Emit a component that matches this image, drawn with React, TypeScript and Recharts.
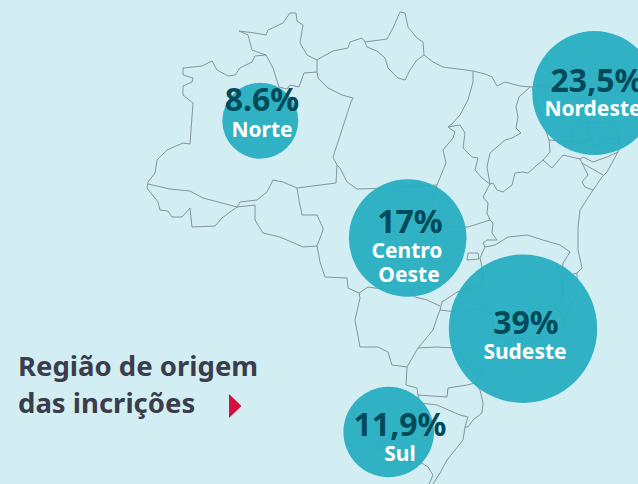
import React from 'react';
import { ScatterChart, Scatter, XAxis, YAxis, ZAxis } from 'recharts';

const WIDTH = 638;
const HEIGHT = 484;

const INK = '#004a59';
const BUBBLE = '#29afc2';
const BORDER = '#84949b';
const FONT = '"Noto Sans", Lato, sans-serif';

// regions and their share, as printed on the picture
const regions = ['Norte', 'Nordeste', 'Centro Oeste', 'Sudeste', 'Sul'];
const shares = ['8.6%', '23,5%', '17%', '39%', '11,9%'];

// bubble centres on the map plane and bubble area
const bubbleX = [260.3, 594.3, 407.7, 523, 388.7];
const bubbleY = [120.7, 93, 238, 328.7, 432];
const bubbleArea = [4536, 12076, 10862, 17296, 6447];

const shareX = [262, 597, 410, 526, 400];
const shareY = [111, 92, 233, 334, 436];

const nameLines = ['Norte', 'Nordeste', 'Centro', 'Oeste', 'Sudeste', 'Sul'];
const nameX = [262, 593, 407, 409, 525, 400];
const nameY = [137, 116, 258, 282, 359, 461];

const titleLines = ['Região de origem', 'das incrições'];
const titleX = [18, 18];
const titleY = [376, 413];

const arrow = [
  { x: 229, y: 394 },
  { x: 241.5, y: 406 },
  { x: 229, y: 418 },
];

type Pt = [number, number];

// state borders
const amazonasNorth: Pt[] = [[183, 68], [202, 66], [212, 61], [217, 70], [228, 76], [235, 75], [240, 68], [252, 62], [255, 56], [266, 55], [273, 68], [279, 87], [287, 89], [290, 85], [299, 87], [304, 73], [317, 72]];
const amazonasWest: Pt[] = [[183, 68], [183, 75], [193, 78], [192, 82], [183, 86], [183, 95], [193, 103], [190, 144], [183, 143], [167, 150], [157, 160], [155, 173], [148, 182], [147, 188], [158, 202], [160, 210], [168, 211], [172, 217], [182, 217], [190, 208], [192, 227], [215, 226], [222, 218], [237, 207], [255, 205]];
const acreLine: Pt[] = [[148, 184], [170, 189], [190, 191], [203, 198], [237, 207]];
const amazonasSouth: Pt[] = [[237, 207], [240, 202], [257, 200], [267, 192], [273, 180], [283, 182], [297, 188], [336, 183], [337, 165], [333, 157], [351, 102], [353, 98], [342, 95], [328, 88], [318, 78], [317, 72]];
const roraimaWest: Pt[] = [[239, 31], [248, 35], [252, 50], [260, 53], [266, 55]];
const roraimaNorth: Pt[] = [[239, 31], [255, 33], [266, 35], [268, 30], [283, 23], [290, 13], [296, 13], [297, 21], [303, 25], [300, 43], [307, 55], [317, 60], [317, 72]];
const paraNorth: Pt[] = [[317, 60], [322, 57], [333, 51], [348, 48], [350, 42], [362, 38], [365, 42], [380, 40]];
const amapa: Pt[] = [[365, 42], [367, 47], [377, 51], [385, 58], [388, 68], [398, 78], [405, 80], [410, 70], [417, 60], [424, 55], [423, 42], [417, 38], [408, 27], [405, 13], [400, 12], [393, 28], [387, 39], [380, 40]];
const eastCoast: Pt[] = [[424, 55], [433, 62], [443, 67], [473, 71], [485, 74], [492, 77], [497, 86], [505, 82], [520, 86], [530, 87], [547, 85], [563, 92], [583, 103], [613, 123], [619, 137], [619, 150], [607, 172], [602, 177], [593, 190], [580, 210], [578, 227], [578, 250], [582, 268], [577, 273], [577, 293], [565, 317], [563, 327], [543, 337], [527, 343], [497, 358], [482, 373], [475, 383], [480, 390], [483, 403], [482, 413], [473, 420], [468, 427], [465, 427], [463, 440], [447, 460], [440, 473], [433, 484]];
const maranhaoWest: Pt[] = [[473, 71], [473, 82], [468, 100], [460, 115], [452, 124], [448, 127], [460, 125], [465, 133], [463, 148], [472, 157], [478, 158], [475, 170], [482, 178], [490, 184]];
const tocantinsWest: Pt[] = [[448, 127], [455, 132], [453, 138], [443, 150], [446, 163], [437, 185], [433, 200], [433, 213]];
const matoGrossoNorth: Pt[] = [[337, 165], [340, 168], [347, 182], [357, 189], [390, 188], [437, 185]];
const maranhaoEast: Pt[] = [[530, 87], [519, 97], [516, 107], [518, 117], [516, 128], [521, 133], [512, 138], [505, 140], [490, 153], [487, 167], [490, 184]];
const bahiaNorth: Pt[] = [[490, 184], [493, 183], [497, 190], [503, 192], [512, 185], [515, 173], [523, 172], [528, 173], [543, 160], [550, 152], [549, 140], [540, 113], [532, 87]];
const pernambucoSouth: Pt[] = [[543, 160], [552, 168], [563, 155], [580, 159], [582, 163], [603, 175]];
const paraibaSouth: Pt[] = [[580, 159], [583, 157], [593, 162], [607, 157], [618, 152]];
const paraibaNorth: Pt[] = [[549, 140], [572, 142], [580, 143], [592, 138], [593, 148], [607, 140], [619, 137]];
const ceara: Pt[] = [[572, 142], [572, 128], [587, 122], [597, 123], [613, 123]];
const rioGrandeNorte: Pt[] = [[592, 138], [587, 130], [587, 122]];
const sergipe: Pt[] = [[582, 163], [583, 165], [588, 175], [582, 182], [585, 187], [593, 190]];
const tocantinsEast: Pt[] = [[490, 184], [483, 197], [488, 203], [487, 213], [490, 220]];
const goiasNorth: Pt[] = [[490, 220], [468, 227], [460, 227], [447, 227], [435, 223]];
const bahiaSouth: Pt[] = [[490, 220], [493, 223], [492, 233], [497, 240], [487, 240], [483, 243], [485, 247], [495, 245], [508, 237], [527, 235], [543, 240], [560, 245], [570, 252], [563, 263]];
const espiritoNorth: Pt[] = [[563, 263], [562, 277], [577, 273]];
const espiritoWest: Pt[] = [[562, 277], [563, 290], [562, 300], [553, 307], [563, 313], [565, 327]];
const minasWest: Pt[] = [[485, 247], [480, 258], [482, 267], [483, 283], [473, 288], [457, 292], [442, 302], [440, 310], [438, 315], [433, 330], [418, 348], [407, 367]];
const minasSouth: Pt[] = [[440, 310], [457, 312], [485, 308], [493, 315], [493, 333], [507, 340], [540, 337], [565, 327]];
const federalDistrict: Pt[] = [[468, 253], [478, 253], [479, 259], [467, 260], [468, 253]];
const matoGrossoSul: Pt[] = [[407, 367], [392, 365], [388, 352], [378, 347], [360, 347], [355, 320], [360, 298], [359, 293]];
const matoGrossoSouth: Pt[] = [[359, 293], [348, 288], [347, 278], [325, 277], [320, 262], [317, 246], [323, 230], [323, 228], [317, 215], [302, 215], [299, 200], [297, 188]];
const rondonia: Pt[] = [[255, 205], [255, 220], [263, 233], [280, 237], [303, 247], [317, 246]];
const goiasSouth: Pt[] = [[359, 293], [368, 287], [410, 293], [415, 297], [427, 300], [440, 306]];
const goiasWest: Pt[] = [[433, 213], [435, 245], [425, 270], [410, 293]];
const saoPauloSouth: Pt[] = [[418, 348], [437, 347], [453, 348], [460, 352], [467, 367], [482, 373]];
const parana: Pt[] = [[407, 367], [406, 385], [417, 388], [418, 395], [447, 397], [448, 388], [467, 385], [475, 383]];
const santaCatarina: Pt[] = [[418, 395], [420, 403], [437, 405], [460, 415], [468, 417], [465, 427]];
const rioGrandeSul: Pt[] = [[420, 403], [403, 427], [377, 447], [400, 460], [420, 462], [428, 467], [433, 475], [429, 484]];

const borders = [
  amazonasNorth, amazonasWest, acreLine, amazonasSouth, roraimaWest, roraimaNorth, paraNorth, amapa,
  eastCoast, maranhaoWest, tocantinsWest, matoGrossoNorth, maranhaoEast, bahiaNorth, pernambucoSouth,
  paraibaSouth, paraibaNorth, ceara, rioGrandeNorte, sergipe, tocantinsEast, goiasNorth, bahiaSouth,
  espiritoNorth, espiritoWest, minasWest, minasSouth, federalDistrict, matoGrossoSul, matoGrossoSouth,
  rondonia, goiasSouth, goiasWest, saoPauloSouth, parana, santaCatarina, rioGrandeSul,
];

const bubbleData = regions.map((name, i) => ({ name, x: bubbleX[i], y: bubbleY[i], z: bubbleArea[i] }));
const shareData = shares.map((text, i) => ({ text, x: shareX[i], y: shareY[i] }));
const nameData = nameLines.map((text, i) => ({ text, x: nameX[i], y: nameY[i] }));
const titleData = titleLines.map((text, i) => ({ text, x: titleX[i], y: titleY[i] }));

const NoPoint = () => <g />;

const ShareText = (p: any) => (
  <text x={p.cx} y={p.cy} textAnchor="middle" fontFamily={FONT} fontWeight={700} fontSize={32} fill={INK}>
    {p.text}
  </text>
);

const NameText = (p: any) => (
  <text x={p.cx} y={p.cy} textAnchor="middle" fontFamily={FONT} fontWeight={700} fontSize={21} fill="#ffffff">
    {p.text}
  </text>
);

const TitleText = (p: any) => (
  <text x={p.cx} y={p.cy} fontFamily={FONT} fontWeight={700} fontSize={27.5} fill="#3a3d4b">
    {p.text}
  </text>
);

const Arrow = (p: any) =>
  p.index === 0 ? (
    <polygon points={`${p.cx},${p.cy} ${p.cx + 12.5},${p.cy + 12} ${p.cx},${p.cy + 24}`} fill="#d4103c" />
  ) : (
    <g />
  );

export default function App() {
  return (
    <div style={{ position: 'absolute', left: 0, top: 0, width: WIDTH, height: HEIGHT, background: '#d3eef3', overflow: 'hidden' }}>
      <ScatterChart width={WIDTH} height={HEIGHT} margin={{ top: 0, right: 0, bottom: 0, left: 0 }}>
        <XAxis type="number" dataKey="x" domain={[0, WIDTH]} hide />
        <YAxis type="number" dataKey="y" domain={[0, HEIGHT]} reversed hide />
        <ZAxis type="number" dataKey="z" domain={[0, 20000]} range={[0, 20000]} />
        {borders.map((b, i) => (
          <Scatter
            key={i}
            data={b.map(([x, y]) => ({ x, y }))}
            line={{ stroke: BORDER, strokeWidth: 1 }}
            shape={NoPoint}
            isAnimationActive={false}
          />
        ))}
        <Scatter data={bubbleData} fill={BUBBLE} fillOpacity={0.96} isAnimationActive={false} />
        <Scatter data={shareData} shape={ShareText} isAnimationActive={false} />
        <Scatter data={nameData} shape={NameText} isAnimationActive={false} />
        <Scatter data={titleData} shape={TitleText} isAnimationActive={false} />
        <Scatter data={arrow} shape={Arrow} isAnimationActive={false} />
      </ScatterChart>
    </div>
  );
}
